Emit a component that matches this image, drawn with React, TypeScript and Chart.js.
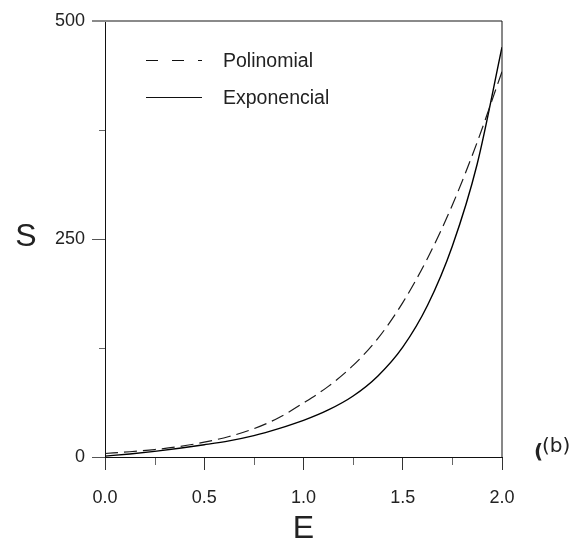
import React, { useEffect, useRef } from "react";
import { Chart, registerables } from "chart.js";

Chart.register(...registerables);

// Data
const E_VALUES = [0, 0.125, 0.25, 0.375, 0.5, 0.625, 0.75, 0.875, 1.0, 1.125, 1.25, 1.375, 1.5, 1.625, 1.75, 1.875, 2.0];
const POLINOMIAL = [4, 6, 8.5, 12, 17, 23.5, 32.5, 45, 62, 81, 105, 136, 177, 228, 289, 361, 442];
const EXPONENCIAL = [1, 3.5, 6.5, 10, 14, 18.5, 24.5, 32.5, 42, 54, 70, 93, 126, 174, 242, 336, 470];
const SERIES_LABELS = ["Polinomial", "Exponencial"];
const X_TICK_LABELS = ["0.0", "0.5", "1.0", "1.5", "2.0"];
const Y_TICK_LABELS = ["0", "250", "500"];
const X_TITLE = "E";
const Y_TITLE = "S";
const PANEL_TAG = "(b)";

const FONT = '"Liberation Sans", Arial, sans-serif';

const isMajorX = (v: number) => Math.abs(v * 2 - Math.round(v * 2)) < 1e-6;
const isMajorY = (v: number) => Math.abs(v / 250 - Math.round(v / 250)) < 1e-6;

const decorPlugin = {
  id: "decor",
  afterDraw(chart: any) {
    const ctx = chart.ctx as CanvasRenderingContext2D;
    const { left, right, top, bottom } = chart.chartArea;
    const xs = chart.scales.x;
    const ys = chart.scales.y;
    ctx.save();
    // frame: top (grey) and right
    ctx.strokeStyle = "#8a8a8a";
    ctx.lineWidth = 2;
    ctx.beginPath();
    ctx.moveTo(left - 13, top);
    ctx.lineTo(right, top);
    ctx.stroke();
    ctx.strokeStyle = "#111";
    ctx.lineWidth = 1;
    ctx.beginPath();
    ctx.moveTo(right, top);
    ctx.lineTo(right, bottom);
    ctx.stroke();
    // minor ticks
    ctx.strokeStyle = "#666";
    ctx.lineWidth = 1;
    xs.ticks.forEach((t: any) => {
      if (!isMajorX(t.value)) {
        const px = Math.round(xs.getPixelForValue(t.value)) + 0.5;
        ctx.beginPath();
        ctx.moveTo(px, bottom + 1);
        ctx.lineTo(px, bottom + 8);
        ctx.stroke();
      }
    });
    ys.ticks.forEach((t: any) => {
      if (!isMajorY(t.value)) {
        const py = Math.round(ys.getPixelForValue(t.value)) + 0.5;
        ctx.beginPath();
        ctx.moveTo(left - 6, py);
        ctx.lineTo(left, py);
        ctx.stroke();
      }
    });
    // legend
    const ds = chart.data.datasets;
    const legendX0 = left + 41;
    const legendX1 = left + 97;
    const legendY = [top + 39, top + 76];
    ds.forEach((d: any, i: number) => {
      ctx.strokeStyle = "#111";
      ctx.lineWidth = 1;
      ctx.setLineDash(i === 0 ? [12, 14] : []);
      ctx.beginPath();
      ctx.moveTo(legendX0, legendY[i] + 0.5);
      ctx.lineTo(legendX1, legendY[i] + 0.5);
      ctx.stroke();
      ctx.setLineDash([]);
      ctx.fillStyle = "#222";
      ctx.font = `19.5px ${FONT}`;
      ctx.textAlign = "left";
      ctx.textBaseline = "middle";
      ctx.fillText(d.label, left + 118, legendY[i] + 2);
    });
    // axis titles
    ctx.fillStyle = "#222";
    ctx.font = `32px ${FONT}`;
    ctx.textAlign = "center";
    ctx.textBaseline = "middle";
    ctx.fillText(Y_TITLE, 26, ys.getPixelForValue(250) - 2);
    ctx.fillText(X_TITLE, (left + right) / 2, bottom + 72);
    // panel tag
    ctx.font = `bold 20px "DejaVu Sans", sans-serif`;
    ctx.textAlign = "left";
    ctx.fillText("(", right + 32, bottom - 4);
    ctx.font = `20px "DejaVu Sans", sans-serif`;
    ctx.fillText(PANEL_TAG, right + 40, bottom - 10);
    ctx.restore();
  },
};

export default function App() {
  const ref = useRef<HTMLCanvasElement | null>(null);
  useEffect(() => {
    if (!ref.current) return;
    const chart = new Chart(ref.current, {
      type: "line",
      data: {
        datasets: [
          {
            label: SERIES_LABELS[0],
            data: E_VALUES.map((x, i) => ({ x, y: POLINOMIAL[i] })),
            borderColor: "#1a1a1a",
            borderWidth: 1.2,
            borderDash: [13, 6],
            pointRadius: 0,
            cubicInterpolationMode: "monotone",
            fill: false,
          },
          {
            label: SERIES_LABELS[1],
            data: E_VALUES.map((x, i) => ({ x, y: EXPONENCIAL[i] })),
            borderColor: "#000",
            borderWidth: 1.4,
            pointRadius: 0,
            cubicInterpolationMode: "monotone",
            fill: false,
          },
        ],
      },
      options: {
        animation: false,
        responsive: false,
        layout: { padding: { top: 21, right: 82, left: 0, bottom: 0 } },
        plugins: { legend: { display: false }, tooltip: { enabled: false } },
        scales: {
          x: {
            type: "linear",
            min: 0,
            max: 2,
            afterFit: (s: any) => {
              s.height = 82;
            },
            border: { display: true, color: "#111", width: 1 },
            grid: {
              drawOnChartArea: false,
              tickLength: 13,
              tickColor: (c: any) => (c.tick && isMajorX(c.tick.value) ? "#333" : "rgba(0,0,0,0)"),
            },
            ticks: {
              stepSize: 0.25,
              autoSkip: false,
              maxRotation: 0,
              padding: 17,
              color: "#222",
              font: { family: FONT, size: 18 },
              callback: (v: any) => (isMajorX(Number(v)) ? X_TICK_LABELS[Math.round(Number(v) * 2)] : ""),
            },
          },
          y: {
            type: "linear",
            min: 0,
            max: 500,
            afterFit: (s: any) => {
              s.width = 105;
            },
            border: { display: true, color: "#111", width: 1 },
            grid: {
              drawOnChartArea: false,
              tickLength: 13,
              tickColor: (c: any) =>
                c.tick && isMajorY(c.tick.value) ? (c.tick.value === 500 ? "#8a8a8a" : "#555") : "rgba(0,0,0,0)",
            },
            ticks: {
              stepSize: 125,
              autoSkip: false,
              padding: 7,
              color: "#222",
              font: { family: FONT, size: 18 },
              callback: (v: any) => (isMajorY(Number(v)) ? Y_TICK_LABELS[Math.round(Number(v) / 250)] : ""),
            },
          },
        },
      },
      plugins: [decorPlugin],
    });
    return () => chart.destroy();
  }, []);
  return (
    <div style={{ position: "fixed", left: 0, top: 0, width: 584, height: 539, background: "#fff" }}>
      <canvas ref={ref} width={584} height={539} style={{ display: "block" }} />
    </div>
  );
}
